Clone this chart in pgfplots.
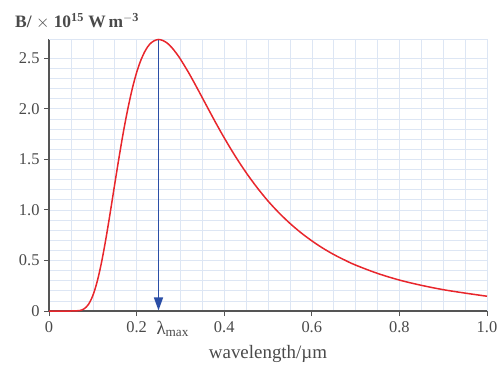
\documentclass[border=0pt]{standalone}
\usepackage{fontspec}
\setmainfont{Liberation Serif}
\usepackage{pgfplots}
\pgfplotsset{compat=1.18}
\usetikzlibrary{arrows.meta}
\definecolor{curvered}{HTML}{E8262C}
\definecolor{arrowblue}{HTML}{2B4EA6}
\definecolor{gridblue}{HTML}{DDE6F4}
\definecolor{axgray}{HTML}{555555}
\definecolor{txtgray}{HTML}{4A4A4A}
\pgfplotstableread{
x y
0 0
0.05 0
0.06 0.0005
0.07 0.0044
0.08 0.021
0.09 0.065
0.10 0.152
0.11 0.291
0.12 0.483
0.13 0.717
0.14 0.979
0.15 1.253
0.16 1.521
0.17 1.774
0.18 2.000
0.19 2.196
0.20 2.358
0.21 2.483
0.22 2.576
0.23 2.639
0.24 2.672
0.25 2.685
0.26 2.675
0.27 2.649
0.28 2.607
0.29 2.553
0.30 2.491
0.32 2.348
0.34 2.190
0.36 2.028
0.38 1.867
0.40 1.713
0.425 1.533
0.45 1.369
0.475 1.221
0.50 1.088
0.525 0.971
0.55 0.867
0.575 0.775
0.60 0.694
0.625 0.622
0.65 0.559
0.675 0.504
0.70 0.454
0.75 0.372
0.80 0.306
0.85 0.254
0.90 0.211
0.95 0.177
1.00 0.146
}\planck
\begin{document}
\begin{tikzpicture}
\begin{axis}[
  name=ax,
  scale only axis,
  width=438bp, height=272bp,
  xmin=0, xmax=1.0, ymin=0, ymax=2.69,
  axis lines=left,
  axis line style={-, draw=axgray, line width=1.5bp},
  xtick={0,0.2,0.4,0.6,0.8,1.0},
  xticklabels={0,0.2,0.4,0.6,0.8,1.0},
  ytick={0,0.5,1.0,1.5,2.0,2.5},
  yticklabels={0,0.5,1.0,1.5,2.0,2.5},
  minor x tick num=3,
  minor y tick num=4,
  minor tick length=0pt,
  major tick length=5bp,
  tick align=outside,
  tick style={draw=axgray, line width=0.8bp},
  grid=both,
  major grid style={draw=gridblue, line width=0.6bp},
  minor grid style={draw=gridblue, line width=0.6bp},
  ticklabel style={font=\fontsize{16.5}{19}\selectfont, text=txtgray},
  xticklabel style={yshift=-2bp},
  yticklabel style={xshift=-1bp},
  /pgf/number format/assume math mode=true,
  clip=false,
]
\draw[gridblue, line width=0.8bp] (rel axis cs:0,1) -- (rel axis cs:1,1) -- (rel axis cs:1,0);
\addplot[curvered, line width=1.5bp, smooth, tension=0.55] table {\planck};
\addplot[arrowblue, line width=1.4bp, -{Triangle[length=13bp, width=9bp]}] coordinates {(0.25,2.685) (0.25,0.005)};
\node[anchor=base west, font=\fontsize{19}{22}\selectfont, text=txtgray, inner sep=0pt] at ([yshift=-23bp]axis cs:0.245,0) {λ\textsubscript{max}};
\end{axis}
\node[font=\fontsize{19}{22}\selectfont, text=txtgray, inner sep=0pt] at (219bp,-43bp) {wavelength/µm};
\node[anchor=west, font=\bfseries\fontsize{17.5}{20}\selectfont, text=txtgray, inner sep=0pt] at (-34bp,290bp) {B/ $\times$ 10\textsuperscript{15} W\,m\textsuperscript{$-$3}};
\pgfresetboundingbox
\path[use as bounding box] (-49bp,-54bp) rectangle (449bp,311bp);
\end{tikzpicture}
\end{document}
